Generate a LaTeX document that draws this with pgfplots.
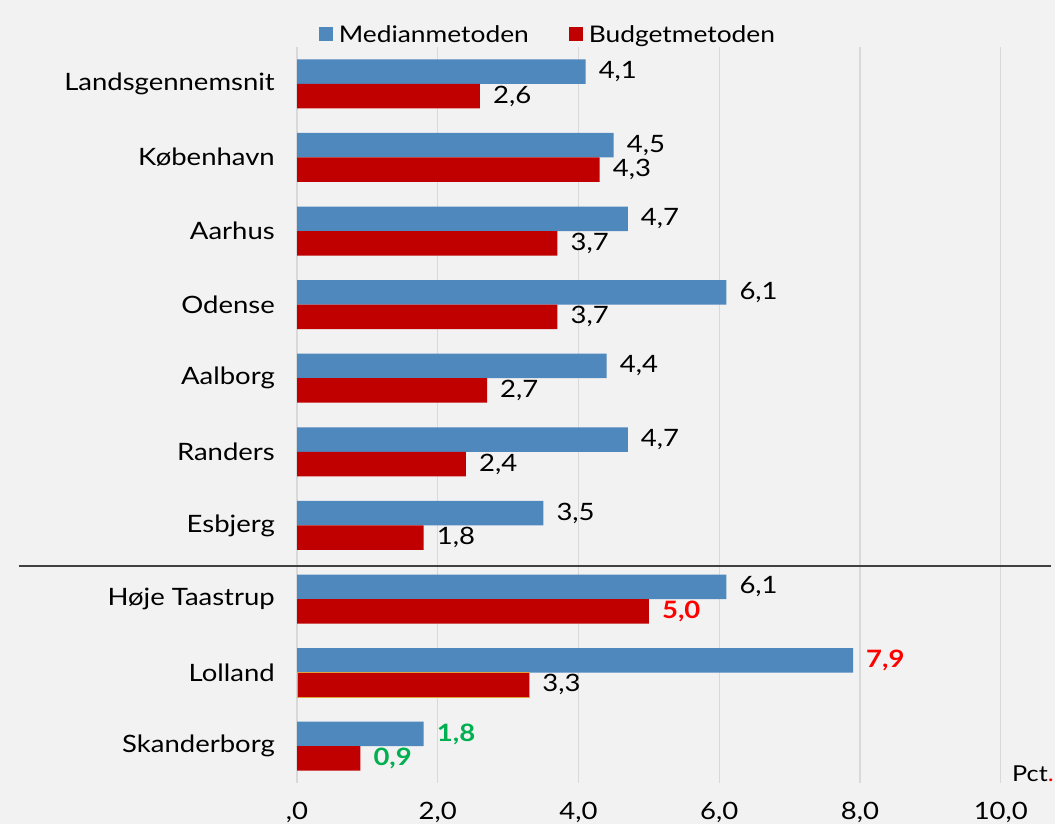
\documentclass[border=0pt]{standalone}
\usepackage{pgfplots}
\pgfplotsset{compat=1.18}
\usepackage{fontspec}
\setmainfont{Lato}[FakeStretch=1.15]
\definecolor{bg}{HTML}{F2F2F2}
\definecolor{cblue}{HTML}{4F88BD}
\definecolor{cred}{HTML}{C00000}
\definecolor{gridc}{HTML}{D9D9D9}
\definecolor{hired}{HTML}{FF0000}
\definecolor{higreen}{HTML}{00B050}
\definecolor{edgeor}{HTML}{E3A23A}
\protected\def\rb#1{{\color{hired}\bfseries #1}}
\protected\def\gb#1{{\color{higreen}\bfseries #1}}
\begin{document}
\begin{tikzpicture}
\fill[bg] (0,0) rectangle (1055bp,824bp);
\useasboundingbox (0,0) rectangle (1055bp,824bp);
\begin{axis}[
  at={(297bp,41bp)}, anchor=south west,
  scale only axis, width=758bp, height=736bp,
  xmin=0, xmax=10.77, ymin=-0.5, ymax=9.5,
  y dir=reverse,
  xbar, bar width=24.5bp,
  axis line style={draw=none},
  major tick length=0pt,
  xtick={0,2,4,6,8,10},
  xticklabels={{,0},{2,0},{4,0},{6,0},{8,0},{10,0}},
  ytick={0,...,9},
  yticklabels={Landsgennemsnit,København,Aarhus,Odense,Aalborg,Randers,Esbjerg,Høje Taastrup,Lolland,Skanderborg},
  /pgf/number format/assume math mode=true,
  xmajorgrids, grid style={color=gridc, line width=1.3bp},
  tick label style={font=\fontsize{24}{28}\selectfont, text=black},
  y tick label style={inner sep=0pt, xshift=-22bp},
  x tick label style={inner sep=0pt, anchor=north, yshift=-19bp},
  clip=false,
  point meta=explicit symbolic,
  nodes near coords={\pgfplotspointmeta},
  nodes near coords style={anchor=west, inner sep=0pt, xshift=13bp, font=\fontsize{24}{28}\selectfont, text=black},
  legend style={draw=none, fill=none, at={(0.331,1.017)}, anchor=center,
    legend columns=2, font=\fontsize{23}{26}\selectfont,
    /tikz/every odd column/.append style={column sep=4bp},
    /tikz/every even column/.append style={column sep=38bp},
    inner sep=0pt, outer sep=0pt},
  legend image code/.code={\fill[#1,draw=none] (0bp,-7bp) rectangle (14bp,7bp);},
]
\addplot[fill=cblue, draw=none, bar shift=12.25bp] coordinates {
 (4.1,0) [{4,1}] (4.5,1) [{4,5}] (4.7,2) [{4,7}] (6.1,3) [{6,1}] (4.4,4) [{4,4}]
 (4.7,5) [{4,7}] (3.5,6) [{3,5}] (6.1,7) [{6,1}] (7.9,8) [\rb{7,9}] (1.8,9) [\gb{1,8}]
};
\addlegendentry{Medianmetoden}
\addplot[fill=cred, draw=none, bar shift=-12.25bp] coordinates {
 (2.6,0) [{2,6}] (4.3,1) [{4,3}] (3.7,2) [{3,7}] (3.7,3) [{3,7}] (2.7,4) [{2,7}]
 (2.4,5) [{2,4}] (1.8,6) [{1,8}] (5.0,7) [\rb{5,0}] (3.3,8) [{3,3}] (0.9,9) [\gb{0,9}]
};
\addlegendentry{Budgetmetoden}
\addplot[forget plot, fill=none, draw=edgeor, line width=1bp, bar shift=-12.25bp, nodes near coords={}] coordinates {(3.3,8) [{}]};
\draw[color=black!75, line width=1.5bp] (axis cs:-3.95,6.55) -- (axis cs:10.71,6.55);
\end{axis}
\node[anchor=base west, inner sep=0pt, font=\fontsize{22}{26}\selectfont] at (1012bp,42bp) {Pct\textcolor{hired}{.}};
\end{tikzpicture}
\end{document}
